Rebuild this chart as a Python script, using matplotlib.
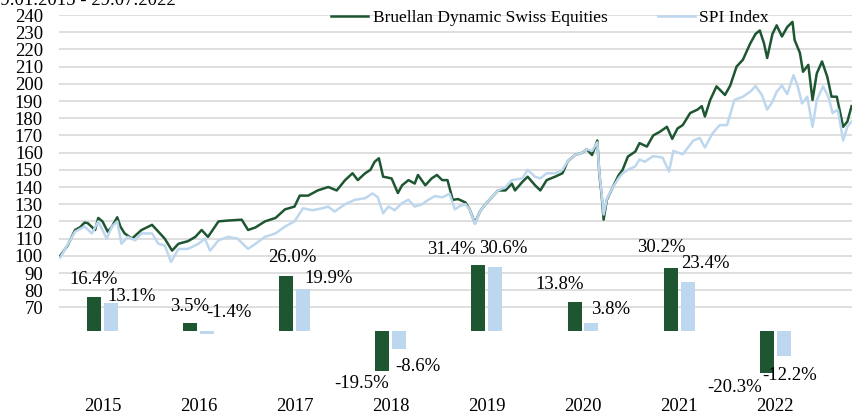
import numpy as np
import matplotlib
matplotlib.use("Agg")
import matplotlib.pyplot as plt

plt.rcParams['font.family'] = ['Liberation Serif', 'DejaVu Serif']

GREEN = '#1E5632'
BLUE = '#BDD7EE'
GRID = '#D9D9D9'

# index level (time in decimal years)
bru_t = [2015.08, 2015.15, 2015.22, 2015.27, 2015.31, 2015.34, 2015.41, 2015.44, 2015.48, 2015.53,
         2015.57, 2015.62, 2015.65, 2015.69, 2015.76, 2015.85, 2015.95, 2016.01, 2016.07, 2016.14,
         2016.20, 2016.29, 2016.36, 2016.42, 2016.48, 2016.58, 2016.67, 2016.80, 2016.86, 2016.93,
         2017.02, 2017.12, 2017.21, 2017.30, 2017.35, 2017.43, 2017.52, 2017.62, 2017.70, 2017.78,
         2017.85, 2017.90, 2017.97, 2018.02, 2018.06, 2018.10, 2018.14, 2018.22, 2018.28, 2018.32,
         2018.38, 2018.44, 2018.47, 2018.54, 2018.60, 2018.65, 2018.70, 2018.75, 2018.80, 2018.85,
         2018.92, 2018.96, 2019.01, 2019.06, 2019.11, 2019.17, 2019.23, 2019.30, 2019.36, 2019.39,
         2019.46, 2019.51, 2019.58, 2019.63, 2019.69, 2019.77, 2019.84, 2019.89, 2019.96, 2020.03,
         2020.07, 2020.12, 2020.17, 2020.19, 2020.21, 2020.23, 2020.26, 2020.31, 2020.37, 2020.41,
         2020.46, 2020.53, 2020.57, 2020.64, 2020.70, 2020.76, 2020.83, 2020.88, 2020.93, 2020.98,
         2021.05, 2021.12, 2021.16, 2021.19, 2021.24, 2021.30, 2021.38, 2021.43, 2021.49, 2021.55,
         2021.62, 2021.67, 2021.71, 2021.75, 2021.78, 2021.83, 2021.87, 2021.92, 2021.97, 2022.02,
         2022.04, 2022.09, 2022.12, 2022.17, 2022.21, 2022.25, 2022.30, 2022.35, 2022.39, 2022.44,
         2022.50, 2022.54, 2022.58]
bru_val = [100, 106, 115, 116.7, 119.3, 119, 115, 122, 120, 114,
           117, 122.4, 117, 113, 110, 115, 118, 114, 110, 103,
           107, 108.5, 111, 115, 111, 120, 120.5, 121, 115, 116.5,
           120, 122, 127, 128.6, 135, 135, 138, 140, 138, 144,
           148, 144, 148, 150, 154.7, 156.7, 146, 145, 136.5, 141,
           144, 142, 147, 141, 145, 147, 144, 144, 132.5, 133,
           131, 127, 119, 126, 130, 134, 138, 138, 142, 138,
           143, 146, 141, 138, 144, 146, 148, 155, 158.6, 160,
           162, 158.6, 167, 147, 136, 121, 132.5, 139, 146.6, 150,
           157.7, 160.6, 165.5, 163.5, 170, 172, 175, 168, 174, 176,
           183, 185, 187, 181, 190.6, 198.5, 193.5, 199, 210, 214,
           223.5, 229, 231, 223.5, 215, 229, 234, 227.5, 233, 236,
           225.5, 218, 207, 211, 190.6, 206, 213, 204, 192.5, 192.5,
           175, 178, 187]

spi_t = [2015.08, 2015.22, 2015.31, 2015.38, 2015.44, 2015.52, 2015.57, 2015.62, 2015.66, 2015.72,
         2015.79, 2015.85, 2015.95, 2016.01, 2016.07, 2016.13, 2016.20, 2016.29, 2016.39, 2016.45,
         2016.50, 2016.58, 2016.67, 2016.76, 2016.86, 2016.93, 2017.02, 2017.12, 2017.21, 2017.30,
         2017.38, 2017.47, 2017.56, 2017.62, 2017.68, 2017.78, 2017.87, 2017.97, 2018.04, 2018.09,
         2018.14, 2018.19, 2018.25, 2018.32, 2018.38, 2018.44, 2018.51, 2018.57, 2018.63, 2018.70,
         2018.77, 2018.82, 2018.87, 2018.92, 2018.96, 2019.01, 2019.06, 2019.11, 2019.17, 2019.23,
         2019.30, 2019.36, 2019.46, 2019.51, 2019.58, 2019.63, 2019.69, 2019.77, 2019.84, 2019.89,
         2019.96, 2020.03, 2020.07, 2020.12, 2020.17, 2020.19, 2020.21, 2020.23, 2020.26, 2020.31,
         2020.37, 2020.41, 2020.46, 2020.53, 2020.57, 2020.62, 2020.70, 2020.79, 2020.85, 2020.89,
         2020.98, 2021.08, 2021.14, 2021.19, 2021.26, 2021.33, 2021.40, 2021.47, 2021.55, 2021.62,
         2021.67, 2021.73, 2021.78, 2021.83, 2021.87, 2021.92, 2021.97, 2022.03, 2022.07, 2022.11,
         2022.16, 2022.21, 2022.25, 2022.31, 2022.36, 2022.40, 2022.45, 2022.50, 2022.54, 2022.58]
spi_val = [99, 114, 117, 113, 120, 110, 117, 120, 107, 111,
           109, 113, 113, 107, 106, 96.5, 104, 104, 107, 110,
           103, 109, 111, 110, 104, 107, 111, 113, 117, 120,
           127.6, 126.5, 127.6, 128.6, 125.7, 130, 132.5, 133.5, 136.3, 134,
           124.7, 128.6, 126.5, 130.7, 132.6, 128.6, 130, 132.6, 134.7, 134,
           136, 127, 129, 130, 127, 118.5, 126, 130, 134, 138,
           140, 144, 145, 150, 146, 145, 148, 148, 150, 155,
           158.6, 160, 162, 161, 166, 148, 137, 124, 133, 139,
           145, 148, 150, 152, 156, 154.7, 158, 157, 149, 161,
           159, 167, 168.5, 163, 171, 176, 176, 190.6, 192.5, 195.4,
           198.7, 193.5, 185, 189.6, 195.4, 199, 194, 205, 198.5, 188.6,
           192.5, 175, 190.6, 198.5, 192.5, 183, 185, 167, 175, 178]

# calendar year returns in %
years = ['2015', '2016', '2017', '2018', '2019', '2020', '2021', '2022']
bru_ret = [16.4, 3.5, 26.0, -19.5, 31.4, 13.8, 30.2, -20.3]
spi_ret = [13.1, -1.4, 19.9, -8.6, 30.6, 3.8, 23.4, -12.2]

# label nudges (pixels) as placed in the original
bru_dx = [0, -1, 6, -21, -27, -15, -9, -32]
bru_dy = [17, 17, 19, -12, 16, 17, 20, -14]
spi_dx = [21, 22, 25, 19, 8, 19, 18, 6]
spi_dy = [7, 21, 11, -18, 18, 13, 18, -19]

W, H = 852, 417
FS = 13.5
fig = plt.figure(figsize=(W / 100, H / 100), dpi=100)
rect = [59 / W, (H - 393) / H, 793 / W, (393 - 15) / H]

# line chart
ax = fig.add_axes(rect)
ax.set_xlim(2015.068, 2022.584)
ax.set_ylim(240 - 378 / 1.72, 240)
ax.set_yticks(range(70, 250, 10))
ax.set_xticks([])
ax.grid(axis='y', color=GRID, linewidth=1.2)
ax.set_axisbelow(True)
ax.tick_params(axis='y', length=0, pad=11.5, labelsize=FS)
for s in ax.spines.values():
    s.set_visible(False)

ax.plot(bru_t, bru_val, color=GREEN, lw=1.8, label='Bruellan Dynamic Swiss Equities')
ax.plot(spi_t, spi_val, color=BLUE, lw=1.8, label='SPI Index')
ax.legend(loc='center left', bbox_to_anchor=(331 / W, 1 - 18 / H),
          bbox_transform=fig.transFigure, ncol=2, frameon=False,
          handlelength=2.15, handletextpad=0.25, columnspacing=2.9,
          borderpad=0, borderaxespad=0, fontsize=12.5)

# bar chart of yearly returns on top
axb = fig.add_axes(rect)
axb.patch.set_visible(False)
x = np.arange(len(years))
off, bw = 0.088, 0.146
axb.bar(x - off, bru_ret, width=bw, color=GREEN)
axb.bar(x + off, spi_ret, width=bw, color=BLUE)
axb.set_xlim((59 - 102.5) / 96.1, (852 - 102.5) / 96.1)
axb.set_ylim(-(393 - 330.7) / 2.085, (330.7 - 15) / 2.085)
axb.set_xticks(x, years)
axb.set_yticks([])
axb.tick_params(axis='x', length=0, pad=3.5, labelsize=FS)
for s in axb.spines.values():
    s.set_visible(False)

for i in range(len(years)):
    axb.annotate('{:.1f}%'.format(bru_ret[i]), (x[i] - off, bru_ret[i]),
                 xytext=(bru_dx[i] * 0.72, bru_dy[i] * 0.72), textcoords='offset points',
                 ha='center', va='center', fontsize=FS)
    axb.annotate('{:.1f}%'.format(spi_ret[i]), (x[i] + off, spi_ret[i]),
                 xytext=(spi_dx[i] * 0.72, spi_dy[i] * 0.72), textcoords='offset points',
                 ha='center', va='center', fontsize=FS)

fig.text(-9 / W, 1 - 5 / H, '29.01.2015 - 29.07.2022', va='baseline', fontsize=FS)

fig.savefig('out.png', dpi=100)
